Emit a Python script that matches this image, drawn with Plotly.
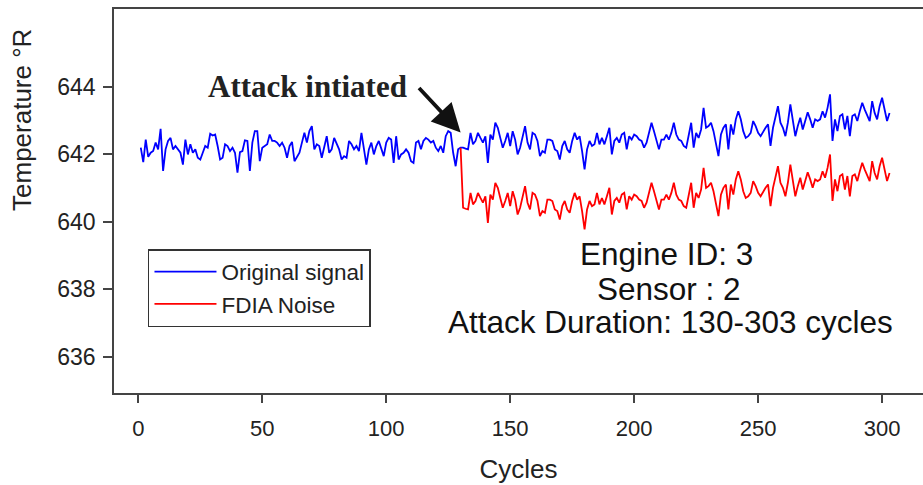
import plotly.graph_objects as go

# ---- data ----
cycles = list(range(1, 304))

original_signal = [
    # cycles 1-65
    642.20, 641.77, 642.44, 641.93, 642.05, 642.10, 642.35, 642.15, 642.76, 641.51,
    642.15, 642.40, 642.49, 642.15, 642.25, 642.15, 642.05, 641.70, 642.44, 642.00,
    642.30, 642.05, 642.15, 641.90, 641.85, 642.05, 642.25, 642.20, 642.61, 642.56,
    642.59, 642.25, 641.85, 641.90, 642.30, 642.25, 642.10, 642.20, 642.05, 641.46,
    642.07, 642.10, 642.42, 642.40, 641.51, 642.35, 642.69, 642.69, 641.80, 642.20,
    642.25, 642.30, 642.59, 642.40, 642.40, 642.35, 642.25, 642.35, 642.20, 641.90,
    642.25, 642.37, 641.80, 641.95, 642.05,
    # cycle 66
    642.35,
    # cycles 67-129
    642.64, 642.35, 642.69, 642.84, 642.15, 642.30, 642.25, 641.90, 642.25, 642.54,
    642.05, 642.15, 642.49, 642.30, 642.15, 641.85, 641.95, 641.90, 642.40, 642.30,
    642.15, 642.25, 642.10, 642.64, 642.15, 641.70, 642.15, 642.35, 642.00, 642.25,
    642.40, 642.15, 641.95, 642.35, 642.49, 642.44, 641.75, 642.54, 641.85, 642.00,
    642.05, 642.15, 642.05, 641.80, 641.75, 642.35, 642.40, 642.15, 642.40, 642.49,
    642.44, 642.35, 642.40, 642.20, 642.10, 642.25, 642.05, 642.54, 642.69, 642.64,
    642.05, 641.65, 642.15,
    # cycle 130
    642.20,
    # cycles 131-190
    642.20, 642.17, 642.15, 642.64, 642.30, 642.40, 642.64, 642.49, 642.35, 642.54,
    641.75, 642.59, 642.44, 642.94, 642.79, 642.49, 642.20, 642.40, 642.64, 642.25,
    642.69, 642.44, 642.00, 642.20, 642.49, 642.84, 642.35, 642.15, 642.64, 642.59,
    642.40, 641.95, 642.10, 642.05, 642.44, 642.44, 642.40, 642.15, 642.10, 641.85,
    642.25, 642.40, 642.15, 642.05, 642.40, 642.64, 642.44, 642.54, 642.10, 641.56,
    642.15, 642.40, 642.25, 642.30, 642.64, 642.30, 642.49, 642.30, 642.54, 642.79,
    # cycles 191-246
    642.00, 642.40, 642.49, 642.35, 642.59, 642.64, 642.15, 642.54, 642.44, 642.59,
    642.54, 642.44, 642.40, 642.20, 642.35, 642.69, 642.94, 642.69, 642.44, 642.15,
    642.44, 642.44, 642.59, 642.44, 642.64, 642.94, 642.59, 642.44, 642.40, 642.25,
    642.20, 642.54, 642.94, 642.20, 642.64, 642.49, 642.74, 643.38, 642.79, 642.84,
    642.94, 642.69, 642.30, 641.95, 642.59, 642.79, 642.89, 642.15, 642.89, 642.59,
    643.04, 643.28, 643.04, 642.69, 642.49, 642.54,
    # cycles 247-303
    642.64, 642.99, 642.84, 642.64, 642.54, 642.69, 642.79, 642.89, 642.25, 642.79,
    643.14, 643.43, 642.94, 642.79, 642.54, 642.94, 643.48, 643.04, 642.54, 642.84,
    643.09, 642.74, 642.99, 643.25, 643.04, 642.79, 643.04, 642.99, 643.04, 643.28,
    643.09, 643.38, 643.78, 642.40, 643.04, 642.69, 643.14, 643.19, 642.74, 643.14,
    642.54, 643.14, 643.19, 642.99, 643.28, 643.53, 643.33, 643.14, 642.99, 643.58,
    643.23, 643.04, 643.43, 643.68, 643.28, 642.99, 643.23,
]

fdia_cycles = list(range(130, 304))
fdia_noise = [
    # cycle 130
    642.20,
    # cycles 131-190
    640.42, 640.39, 640.37, 640.86, 640.52, 640.62, 640.86, 640.71, 640.57, 640.76,
    639.97, 640.81, 640.66, 641.16, 641.01, 640.71, 640.42, 640.62, 640.86, 640.47,
    640.91, 640.66, 640.22, 640.42, 640.71, 641.06, 640.57, 640.37, 640.86, 640.81,
    640.62, 640.17, 640.32, 640.27, 640.66, 640.66, 640.62, 640.37, 640.32, 640.07,
    640.47, 640.62, 640.37, 640.27, 640.62, 640.86, 640.66, 640.76, 640.32, 639.78,
    640.37, 640.62, 640.47, 640.52, 640.86, 640.52, 640.71, 640.52, 640.76, 641.01,
    # cycles 191-246
    640.22, 640.62, 640.71, 640.57, 640.81, 640.86, 640.37, 640.76, 640.66, 640.81,
    640.76, 640.66, 640.62, 640.42, 640.57, 640.91, 641.16, 640.91, 640.66, 640.37,
    640.66, 640.66, 640.81, 640.66, 640.86, 641.16, 640.81, 640.66, 640.62, 640.47,
    640.42, 640.76, 641.16, 640.42, 640.86, 640.71, 640.96, 641.60, 641.01, 641.06,
    641.16, 640.91, 640.52, 640.17, 640.81, 641.01, 641.11, 640.37, 641.11, 640.81,
    641.26, 641.50, 641.26, 640.91, 640.71, 640.76,
    # cycles 247-303
    640.86, 641.21, 641.06, 640.86, 640.76, 640.91, 641.01, 641.11, 640.47, 641.01,
    641.36, 641.65, 641.16, 641.01, 640.76, 641.16, 641.70, 641.26, 640.76, 641.06,
    641.31, 640.96, 641.21, 641.47, 641.26, 641.01, 641.26, 641.21, 641.26, 641.50,
    641.31, 641.60, 642.00, 640.62, 641.26, 640.91, 641.36, 641.41, 640.96, 641.36,
    640.76, 641.36, 641.41, 641.21, 641.50, 641.75, 641.55, 641.36, 641.21, 641.80,
    641.45, 641.26, 641.65, 641.90, 641.50, 641.21, 641.45,
]

x_ticks = [0, 50, 100, 150, 200, 250, 300]
y_ticks = [636, 638, 640, 642, 644]
attack_start = 130
attack_tip_value = 642.65
info_lines = ["Engine ID: 3", "Sensor : 2", "Attack Duration: 130-303 cycles"]

# ---- figure ----
SANS = "Liberation Sans, Arial, sans-serif"
fig = go.Figure()
fig.add_trace(go.Scatter(x=cycles, y=original_signal, mode="lines",
                         name="Original signal",
                         line=dict(color="#0000FF", width=1.8)))
fig.add_trace(go.Scatter(x=fdia_cycles, y=fdia_noise, mode="lines",
                         name="FDIA Noise",
                         line=dict(color="#FF0000", width=1.8)))

# arrow + label
fig.add_annotation(x=attack_start, y=attack_tip_value, text="", showarrow=True,
                   ax=-43, ay=-46, arrowhead=2, arrowsize=1.5, arrowwidth=3.8,
                   arrowcolor="#111111")
fig.add_annotation(x=68.2, y=644.0, text="<b>Attack intiated</b>", showarrow=False,
                   font=dict(family="Liberation Serif, Times New Roman, serif",
                             size=31, color="#222222"))

for txt, xv, yv in zip(info_lines, [213.1, 214.0, 214.5], [639.05, 638.0, 637.02]):
    fig.add_annotation(x=xv, y=yv, text=txt, showarrow=False,
                       font=dict(family=SANS, size=31.5, color="#111111"))

# y-axis title (sits high on the axis in the reference)
fig.add_annotation(x=-0.1137, y=0.711, xref="paper", yref="paper",
                   xanchor="center", yanchor="middle",
                   text="Temperature °R", textangle=-90, showarrow=False,
                   font=dict(family=SANS, size=26, color="#222222"))

axis_col = "#444444"
fig.update_layout(
    width=923, height=485,
    margin=dict(l=114, r=0, t=9, b=92),
    paper_bgcolor="white", plot_bgcolor="white",
    font=dict(family=SANS, color="#222222"),
    showlegend=True,
    legend=dict(x=0.042, y=0.375, xanchor="left", yanchor="top",
                bordercolor="#333333", borderwidth=1.5, bgcolor="white",
                font=dict(family=SANS, size=22.5, color="#222222"),
                itemwidth=62, tracegroupgap=0),
    xaxis=dict(range=[-9.8, 316.5], tickvals=x_ticks, showgrid=False, zeroline=False,
               showline=True, linecolor=axis_col, linewidth=1.6, mirror=True,
               ticks="outside", ticklen=8, tickwidth=1.6, tickcolor=axis_col,
               tickfont=dict(size=22), ticklabelstandoff=7,
               title=dict(text="Cycles", font=dict(size=26), standoff=20)),
    yaxis=dict(range=[634.93, 646.31], tickvals=y_ticks, showgrid=False, zeroline=False,
               showline=True, linecolor=axis_col, linewidth=1.6,
               ticks="outside", ticklen=9, tickwidth=1.6, tickcolor=axis_col,
               tickfont=dict(size=23), ticklabelstandoff=3),
)

fig.write_html("out.html")
